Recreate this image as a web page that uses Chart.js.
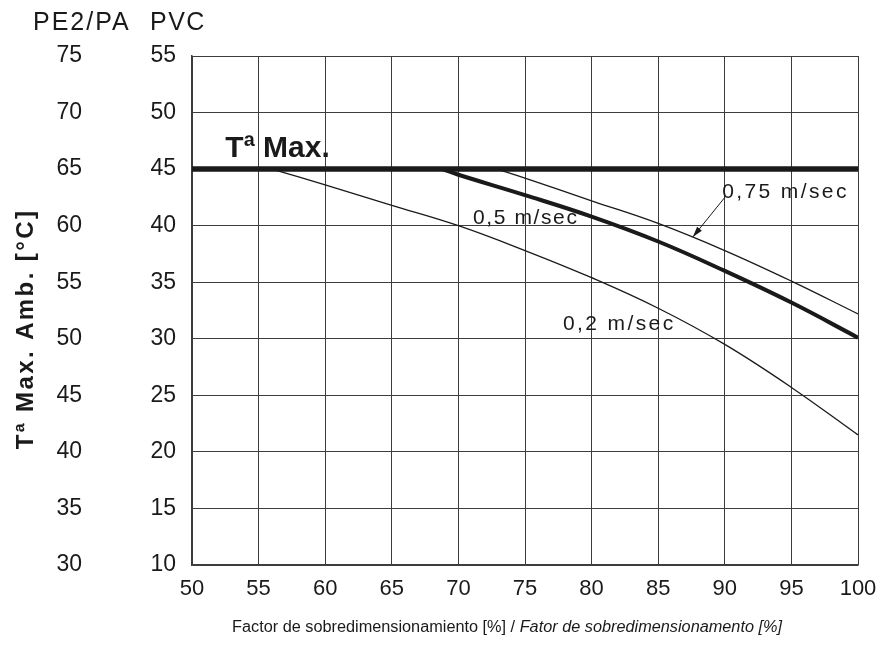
<!DOCTYPE html>
<html>
<head>
<meta charset="utf-8">
<script src="https://cdn.jsdelivr.net/npm/chart.js@4.4.1/dist/chart.umd.min.js"></script>
<style>
  html, body { margin: 0; padding: 0; background: #fff; }
  #wrap { width: 882px; height: 648px; }
</style>
</head>
<body>
<div id="wrap"><canvas id="chart" width="882" height="648"></canvas></div>
<script>
// values
const xTicks = [50, 55, 60, 65, 70, 75, 80, 85, 90, 95, 100];
const pvcTicks = [10, 15, 20, 25, 30, 35, 40, 45, 50, 55];
const pe2Offset = 20; // PE2/PA scale = PVC + 20

const tMaxX = [50, 100];
const tMaxY = [45, 45];

const x02 = [56, 60, 65, 70, 75, 80, 85, 90, 95, 100];
const y02 = [45, 43.6, 41.8, 40.0, 37.8, 35.4, 32.7, 29.5, 25.7, 21.5];

const x05 = [68.8, 70, 75, 80, 85, 90, 95, 100];
const y05 = [45, 44.5, 42.7, 40.8, 38.6, 36.0, 33.2, 30.1];

const x075 = [72.9, 75, 80, 85, 90, 95, 100];
const y075 = [45, 44.2, 42.2, 40.2, 37.8, 35.1, 32.2];

const FONT = "'Liberation Sans', Arial, Helvetica, sans-serif";
const INK = "#1a1a1a";
const GRID = "#3c3c3c";

const pts = (xs, ys) => xs.map((x, i) => ({ x: x, y: ys[i] }));

const line = (xs, ys, w) => ({
  data: pts(xs, ys),
  borderColor: INK,
  borderWidth: w,
  pointRadius: 0,
  fill: false,
  tension: 0.4,
  yAxisID: "y",
});

// extra text: headers, axis titles, curve labels, arrow
const notes = {
  id: "notes",
  afterDraw(chart) {
    const ctx = chart.ctx;
    const xs = chart.scales.x;
    const ys = chart.scales.y;
    const px = (v) => xs.getPixelForValue(v);
    const py = (v) => ys.getPixelForValue(v);

    ctx.save();
    ctx.fillStyle = INK;
    ctx.textBaseline = "middle";

    // column headers
    ctx.font = "25px " + FONT;
    ctx.textAlign = "left";
    ctx.letterSpacing = "2px";
    ctx.fillText("PE2/PA", 33, 23);
    ctx.letterSpacing = "1.5px";
    ctx.fillText("PVC", 150, 23);

    // y title
    ctx.save();
    ctx.translate(26, 329);
    ctx.rotate(-Math.PI / 2);
    ctx.textAlign = "center";
    ctx.font = "bold 24px " + FONT;
    ctx.letterSpacing = "2.4px";
    ctx.fillText("Tª Max. Amb. [°C]", 0, 0);
    ctx.restore();

    // Tª Max.
    ctx.textAlign = "left";
    ctx.textBaseline = "alphabetic";
    ctx.font = "bold 30px " + FONT;
    ctx.letterSpacing = "0px";
    ctx.fillText("Tª Max.", px(52.5), py(46.05));

    // curve labels
    ctx.textBaseline = "middle";
    ctx.font = "21px " + FONT;
    ctx.letterSpacing = "2.4px";
    ctx.fillText("0,75 m/sec", px(89.8), py(43.0));
    ctx.letterSpacing = "1.6px";
    ctx.fillText("0,5 m/sec", px(71.1), py(40.7));
    ctx.letterSpacing = "2.4px";
    ctx.fillText("0,2 m/sec", px(77.85), py(31.3));
    ctx.letterSpacing = "0px";

    // arrow to the 0,75 curve
    const ax = px(90.0), ay = py(42.5), bx = px(87.6), by = py(39.0);
    ctx.strokeStyle = INK;
    ctx.lineWidth = 1;
    ctx.beginPath();
    ctx.moveTo(ax, ay);
    ctx.lineTo(bx, by);
    ctx.stroke();
    const ang = Math.atan2(by - ay, bx - ax);
    ctx.beginPath();
    ctx.moveTo(bx, by);
    ctx.lineTo(bx - 11 * Math.cos(ang - 0.28), by - 11 * Math.sin(ang - 0.28));
    ctx.lineTo(bx - 11 * Math.cos(ang + 0.28), by - 11 * Math.sin(ang + 0.28));
    ctx.closePath();
    ctx.fill();

    // x title, second half italic
    const a = "Factor de sobredimensionamiento [%] / ";
    const b = "Fator de sobredimensionamento [%]";
    ctx.font = "16px 'Liberation Sans Narrow', " + FONT;
    const wa = ctx.measureText(a).width;
    ctx.font = "italic 16px 'Liberation Sans Narrow', " + FONT;
    const wb = ctx.measureText(b).width;
    const sx = 550 / (wa + wb);
    ctx.save();
    ctx.translate(232, 628);
    ctx.scale(sx, 1);
    ctx.textAlign = "left";
    ctx.font = "16px 'Liberation Sans Narrow', " + FONT;
    ctx.fillText(a, 0, 0);
    ctx.font = "italic 16px 'Liberation Sans Narrow', " + FONT;
    ctx.fillText(b, wa, 0);
    ctx.restore();

    ctx.restore();
  },
};

new Chart(document.getElementById("chart"), {
  type: "line",
  data: {
    datasets: [
      line(tMaxX, tMaxY, 5.5),
      line(x075, y075, 1.3),
      line(x05, y05, 4),
      line(x02, y02, 1.3),
    ],
  },
  options: {
    responsive: false,
    animation: false,
    events: [],
    layout: { padding: { left: 0, right: 24, top: 56, bottom: 0 } },
    plugins: { legend: { display: false }, tooltip: { enabled: false } },
    scales: {
      x: {
        type: "linear",
        min: 50,
        max: 100,
        afterBuildTicks: (s) => { s.ticks = xTicks.map((v) => ({ value: v })); },
        afterFit: (s) => { s.height = 83; s.paddingRight = 0; s.paddingLeft = 0; },
        grid: { color: GRID, lineWidth: 1, drawTicks: false },
        border: { color: GRID, width: 1.5 },
        ticks: { color: INK, font: { family: FONT, size: 22 }, padding: 11, maxRotation: 0 },
      },
      y: {
        type: "linear",
        position: "left",
        weight: 0,
        min: 10,
        max: 55,
        afterBuildTicks: (s) => { s.ticks = pvcTicks.map((v) => ({ value: v })); },
        afterFit: (s) => { s.width = 110; },
        grid: { color: GRID, lineWidth: 1, drawTicks: false },
        border: { color: GRID, width: 1.5 },
        ticks: { color: INK, font: { family: FONT, size: 23 }, padding: 16 },
      },
      y2: {
        type: "linear",
        position: "left",
        weight: 1,
        min: 10 + pe2Offset,
        max: 55 + pe2Offset,
        afterBuildTicks: (s) => { s.ticks = pvcTicks.map((v) => ({ value: v + pe2Offset })); },
        afterFit: (s) => { s.width = 82; },
        grid: { display: false, drawTicks: false },
        border: { display: false },
        ticks: { color: INK, font: { family: FONT, size: 23 }, padding: 0 },
      },
    },
  },
  plugins: [notes],
});
</script>
</body>
</html>
